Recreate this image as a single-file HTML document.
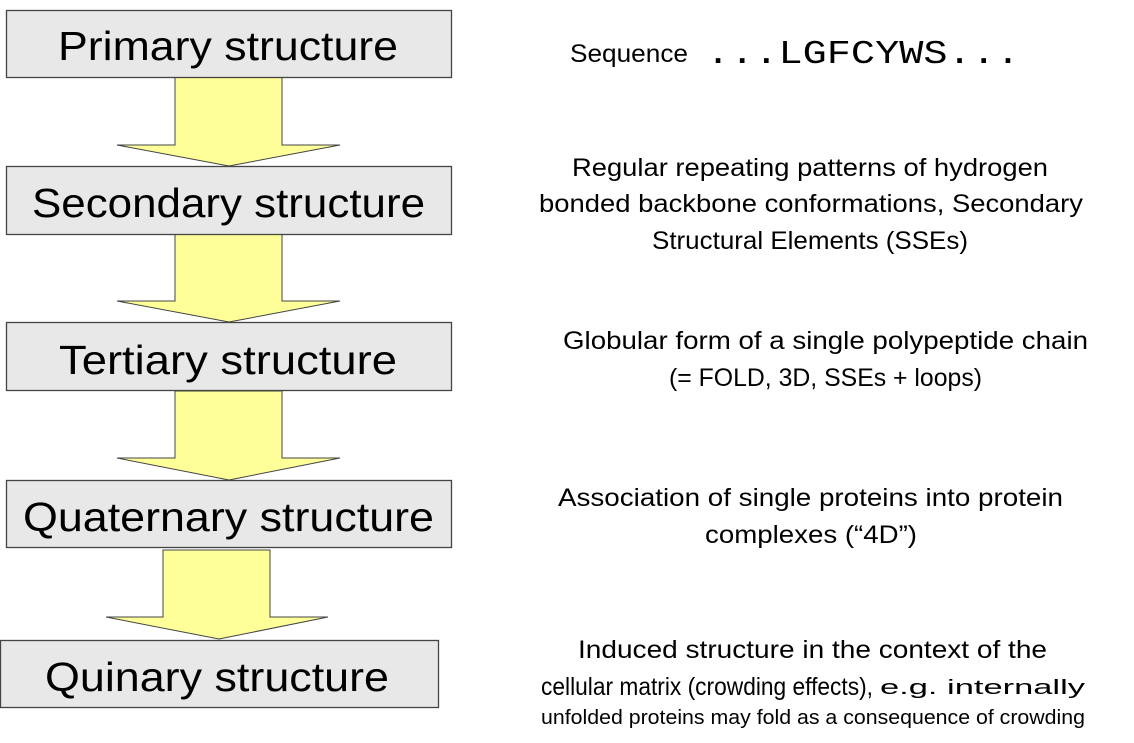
<!DOCTYPE html>
<html><head><meta charset="utf-8"><style>
html,body{margin:0;padding:0;background:#fff;width:1134px;height:743px;overflow:hidden}
svg text{font-family:"Liberation Sans",sans-serif;fill:#000}
.b{font-size:41px}
.r{font-size:25px}
.s{font-size:20px}
</style></head><body>
<svg width="1134" height="743" xmlns="http://www.w3.org/2000/svg">
<g fill="#ffff99" stroke="#444" stroke-width="1">
<polygon points="175,77 282,77 282,145 340,145 229,166 117,145 175,145"/>
<polygon points="175,234 282,234 282,301 340,301 229,322 117,301 175,301"/>
<polygon points="175,391 282,391 282,458 340,458 229,480 117,458 175,458"/>
<polygon points="163,550 270,550 270,617 328,617 219,639 106,617 163,617"/>
</g>
<g fill="#e8e8e8" stroke="#444" stroke-width="1.3">
<rect x="6.5" y="10.5" width="445" height="67"/>
<rect x="6.5" y="166.5" width="445" height="68"/>
<rect x="6.5" y="322.5" width="445" height="68"/>
<rect x="6.5" y="480.5" width="445" height="67"/>
<rect x="0.5" y="640.5" width="438" height="67"/>
</g>
<text class="b" x="58" y="60" textLength="340" lengthAdjust="spacingAndGlyphs">Primary structure</text>
<text class="b" x="32" y="217" textLength="393" lengthAdjust="spacingAndGlyphs">Secondary structure</text>
<text class="b" x="59" y="374" textLength="338" lengthAdjust="spacingAndGlyphs">Tertiary structure</text>
<text class="b" x="23" y="531" textLength="411" lengthAdjust="spacingAndGlyphs">Quaternary structure</text>
<text class="b" x="45" y="691" textLength="344" lengthAdjust="spacingAndGlyphs">Quinary structure</text>

<text class="r" x="570" y="62" textLength="118" lengthAdjust="spacingAndGlyphs">Sequence</text>
<text x="706" y="63" style="font-family:'Liberation Mono',monospace;font-size:33px" textLength="314" lengthAdjust="spacingAndGlyphs">...LGFCYWS...</text>

<text class="r" x="572" y="176" textLength="476" lengthAdjust="spacingAndGlyphs">Regular repeating patterns of hydrogen</text>
<text class="r" x="539" y="212" textLength="544" lengthAdjust="spacingAndGlyphs">bonded backbone conformations, Secondary</text>
<text class="r" x="652" y="249" textLength="316" lengthAdjust="spacingAndGlyphs">Structural Elements (SSEs)</text>

<text class="r" x="563" y="349" textLength="525" lengthAdjust="spacingAndGlyphs">Globular form of a single polypeptide chain</text>
<text class="r" x="669" y="386" textLength="313" lengthAdjust="spacingAndGlyphs">(= FOLD, 3D, SSEs + loops)</text>

<text class="r" x="558" y="506" textLength="505" lengthAdjust="spacingAndGlyphs">Association of single proteins into protein</text>
<text class="r" x="705" y="543" textLength="212" lengthAdjust="spacingAndGlyphs">complexes (“4D”)</text>

<text class="r" x="578" y="658" textLength="469" lengthAdjust="spacingAndGlyphs">Induced structure in the context of the</text>
<text class="r" x="541" y="695" textLength="332" lengthAdjust="spacingAndGlyphs">cellular matrix (crowding effects),</text>
<text class="s" x="880" y="694" textLength="205" lengthAdjust="spacingAndGlyphs">e.g. internally</text>
<text class="s" x="541" y="724" textLength="544" lengthAdjust="spacingAndGlyphs">unfolded proteins may fold as a consequence of crowding</text>
</svg>
</body></html>
